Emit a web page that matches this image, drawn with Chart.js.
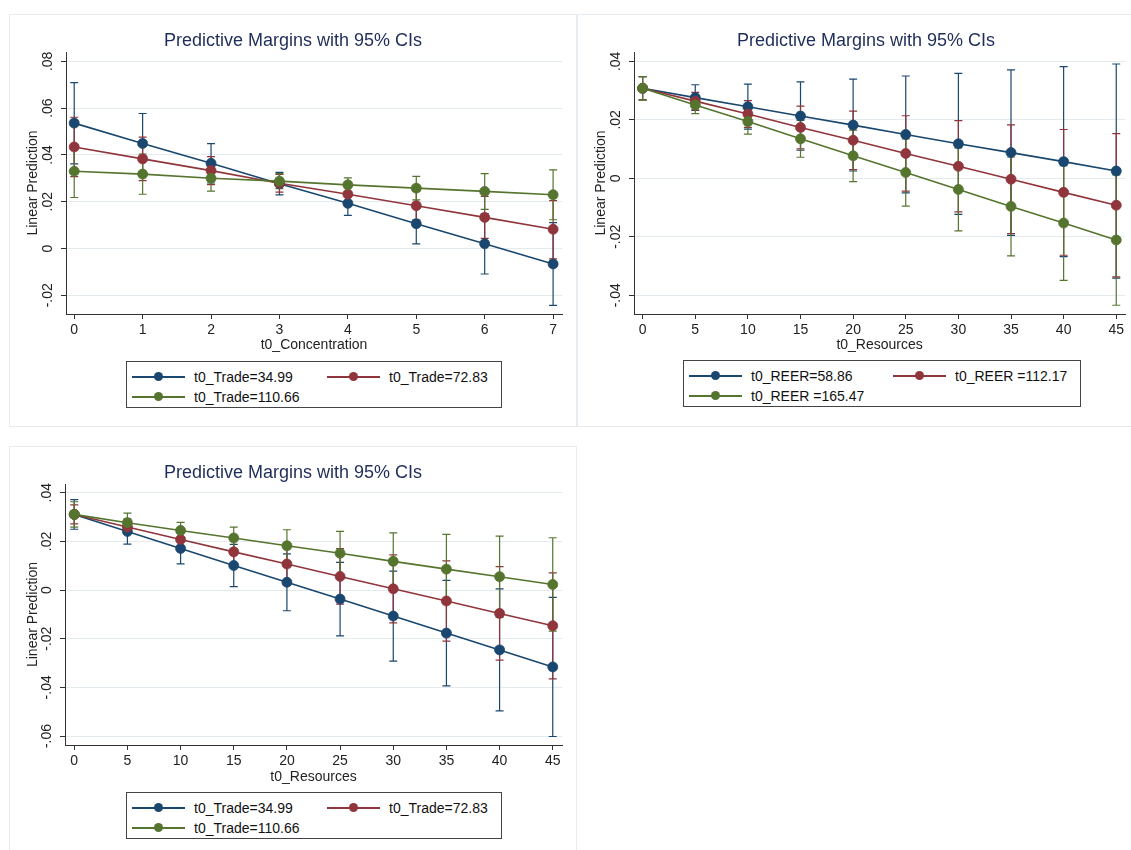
<!DOCTYPE html>
<html>
<head>
<meta charset="utf-8">
<script src="https://cdn.jsdelivr.net/npm/chart.js@4.4.1/dist/chart.umd.min.js"></script>
<style>
  body { margin:0; background:#fff; font-family:"Liberation Sans", Arial, sans-serif; }
  #wrap { position:relative; width:1131px; height:850px; overflow:hidden; background:#fff; }
  .panel { position:absolute; border:1px solid #e6ecef; box-sizing:border-box; }
  canvas { position:absolute; }
  .title { position:absolute; width:420px; text-align:center; font-size:18px; line-height:20px; color:#1e2d5a; white-space:nowrap; }
  .legend { position:absolute; border:1px solid #444; background:#fff; box-sizing:border-box; }
  .key { position:absolute; height:20px; font-size:14px; line-height:20px; color:#111; white-space:nowrap; }
  .key .sym { position:absolute; left:0; top:9px; width:53px; height:1.6px; }
  .key .dot { position:absolute; left:22px; top:-3.7px; width:9px; height:9px; border-radius:50%; }
  .key .txt { position:absolute; left:62px; top:0; }
</style>
</head>
<body>
<div id="wrap">
  <div class="panel" style="left:9px;top:14px;width:568px;height:413px"></div>
  <div class="panel" style="left:577px;top:14px;width:560px;height:413px"></div>
  <div class="panel" style="left:9px;top:446px;width:568px;height:410px"></div>

  <canvas id="c1" width="568" height="339" style="left:9px;top:15px"></canvas>
  <canvas id="c2" width="554" height="339" style="left:577px;top:15px"></canvas>
  <canvas id="c3" width="568" height="339" style="left:9px;top:447px"></canvas>

  <div class="title" style="left:83px;top:30px">Predictive Margins with 95% CIs</div>
  <div class="title" style="left:656px;top:30px">Predictive Margins with 95% CIs</div>
  <div class="title" style="left:83px;top:462px">Predictive Margins with 95% CIs</div>

  <div class="legend" id="lg1" style="left:126px;top:361px;width:376px;height:47px"></div>
  <div class="legend" id="lg2" style="left:683px;top:360px;width:398px;height:47px"></div>
  <div class="legend" id="lg3" style="left:126px;top:792px;width:376px;height:47px"></div>
</div>

<script>
  const colors = ['#1a476f', '#90353b', '#55752f'];

  // ── panel 1: t0_Concentration ──
  const conc = [0, 1, 2, 3, 4, 5, 6, 7];
  const concBlue    = [0.0536, 0.0449, 0.0364, 0.0277, 0.0193, 0.0106, 0.0020, -0.0066];
  const concBlueLo  = [0.0362, 0.0321, 0.0280, 0.0229, 0.0142, 0.0020, -0.0109, -0.0243];
  const concBlueHi  = [0.0709, 0.0577, 0.0448, 0.0325, 0.0244, 0.0192, 0.0149, 0.0111];
  const concRed     = [0.0434, 0.0383, 0.0333, 0.0279, 0.0232, 0.0183, 0.0133, 0.0082];
  const concRedLo   = [0.0307, 0.0290, 0.0273, 0.0241, 0.0197, 0.0122, 0.0043, -0.0044];
  const concRedHi   = [0.0561, 0.0476, 0.0393, 0.0317, 0.0267, 0.0244, 0.0223, 0.0205];
  const concGreen   = [0.0330, 0.0318, 0.0300, 0.0288, 0.0272, 0.0258, 0.0244, 0.0230];
  const concGreenLo = [0.0218, 0.0232, 0.0245, 0.0256, 0.0242, 0.0208, 0.0167, 0.0123];
  const concGreenHi = [0.0442, 0.0404, 0.0355, 0.0320, 0.0302, 0.0308, 0.0320, 0.0336];
  const tradeLabels = ['t0_Trade=34.99', 't0_Trade=72.83', 't0_Trade=110.66'];
  const yTicks1 = [-0.02, 0, 0.02, 0.04, 0.06, 0.08];
  const yLabels1 = ['-.02', '0', '.02', '.04', '.06', '.08'];

  // ── panel 2: t0_Resources by REER ──
  const res = [0, 5, 10, 15, 20, 25, 30, 35, 40, 45];
  const reerBlue    = [0.0308, 0.0276, 0.0245, 0.0213, 0.0182, 0.0150, 0.0118, 0.0088, 0.0057, 0.0025];
  const reerBlueLo  = [0.0268, 0.0232, 0.0168, 0.0096, 0.0025, -0.0050, -0.0123, -0.0195, -0.0268, -0.0341];
  const reerBlueHi  = [0.0348, 0.0320, 0.0322, 0.0330, 0.0339, 0.0350, 0.0359, 0.0371, 0.0382, 0.0391];
  const reerRed     = [0.0308, 0.0264, 0.0220, 0.0174, 0.0130, 0.0085, 0.0041, -0.0003, -0.0048, -0.0092];
  const reerRedLo   = [0.0268, 0.0234, 0.0174, 0.0101, 0.0030, -0.0044, -0.0115, -0.0189, -0.0263, -0.0337];
  const reerRedHi   = [0.0348, 0.0294, 0.0266, 0.0247, 0.0230, 0.0214, 0.0197, 0.0183, 0.0167, 0.0153];
  const reerGreen   = [0.0308, 0.0251, 0.0194, 0.0135, 0.0077, 0.0020, -0.0038, -0.0096, -0.0153, -0.0211];
  const reerGreenLo = [0.0268, 0.0221, 0.0151, 0.0072, -0.0011, -0.0095, -0.0180, -0.0265, -0.0349, -0.0434];
  const reerGreenHi = [0.0348, 0.0281, 0.0237, 0.0198, 0.0165, 0.0135, 0.0104, 0.0073, 0.0043, 0.0012];
  const reerLabels = ['t0_REER=58.86', 't0_REER =112.17', 't0_REER =165.47'];
  const yTicks2 = [-0.04, -0.02, 0, 0.02, 0.04];
  const yLabels2 = ['-.04', '-.02', '0', '.02', '.04'];

  // ── panel 3: t0_Resources by Trade ──
  const resBlue    = [0.0311, 0.0241, 0.0171, 0.0101, 0.0032, -0.0037, -0.0107, -0.0177, -0.0246, -0.0316];
  const resBlueLo  = [0.0250, 0.0189, 0.0108, 0.0014, -0.0085, -0.0188, -0.0292, -0.0394, -0.0497, -0.0602];
  const resBlueHi  = [0.0372, 0.0293, 0.0234, 0.0188, 0.0149, 0.0114, 0.0078, 0.0040, 0.0005, -0.0030];
  const resRed     = [0.0311, 0.0259, 0.0208, 0.0157, 0.0107, 0.0056, 0.0005, -0.0045, -0.0096, -0.0147];
  const resRedLo   = [0.0272, 0.0244, 0.0173, 0.0097, 0.0020, -0.0058, -0.0135, -0.0210, -0.0288, -0.0365];
  const resRedHi   = [0.0350, 0.0274, 0.0243, 0.0217, 0.0194, 0.0170, 0.0145, 0.0120, 0.0096, 0.0071];
  const resGreen   = [0.0311, 0.0277, 0.0245, 0.0214, 0.0182, 0.0151, 0.0118, 0.0086, 0.0055, 0.0023];
  const resGreenLo = [0.0259, 0.0238, 0.0212, 0.0169, 0.0116, 0.0061, 0.0001, -0.0057, -0.0112, -0.0169];
  const resGreenHi = [0.0363, 0.0316, 0.0278, 0.0259, 0.0248, 0.0241, 0.0235, 0.0229, 0.0222, 0.0215];
  const yTicks3 = [-0.06, -0.04, -0.02, 0, 0.02, 0.04];
  const yLabels3 = ['-.06', '-.04', '-.02', '0', '.02', '.04'];

  Chart.defaults.font.family = '"Liberation Sans", Arial, sans-serif';
  Chart.defaults.color = '#222';

  // CI caps, drawn under the lines and markers
  const ciBars = {
    id: 'ciBars',
    beforeDatasetsDraw(chart) {
      const { ctx, scales: { x, y } } = chart;
      ctx.save();
      chart.data.datasets.forEach(ds => {
        ctx.strokeStyle = ds.borderColor;
        ctx.lineWidth = 1.2;
        ds.data.forEach((p, i) => {
          const px = x.getPixelForValue(p.x);
          const top = y.getPixelForValue(ds.hi[i]);
          const bot = y.getPixelForValue(ds.lo[i]);
          ctx.beginPath();
          ctx.moveTo(px, top); ctx.lineTo(px, bot);
          ctx.moveTo(px - 4, top); ctx.lineTo(px + 4, top);
          ctx.moveTo(px - 4, bot); ctx.lineTo(px + 4, bot);
          ctx.stroke();
        });
      });
      ctx.restore();
    }
  };

  // stata-style vertical y tick labels
  const rotatedYLabels = {
    id: 'rotatedYLabels',
    afterDraw(chart, args, opts) {
      const { ctx, scales: { y } } = chart;
      ctx.save();
      ctx.font = '14px "Liberation Sans", Arial, sans-serif';
      ctx.fillStyle = '#222';
      ctx.textAlign = 'center';
      ctx.textBaseline = 'middle';
      opts.ticks.forEach((v, i) => {
        ctx.save();
        ctx.translate(chart.chartArea.left - 18, y.getPixelForValue(v));
        ctx.rotate(-Math.PI / 2);
        ctx.fillText(opts.labels[i], 0, 0);
        ctx.restore();
      });
      ctx.restore();
    }
  };

  function makePanel(p) {
    const datasets = p.series.map((s, k) => ({
      label: p.labels[k],
      data: p.xs.map((v, i) => ({ x: v, y: s[0][i] })),
      lo: s[1], hi: s[2],
      borderColor: colors[k], backgroundColor: colors[k],
      pointBackgroundColor: colors[k], pointBorderColor: colors[k],
      borderWidth: 1.6, pointRadius: 5, pointBorderWidth: 0.8,
      tension: 0, order: 3 - k
    }));
    new Chart(document.getElementById(p.id), {
      type: 'line',
      data: { datasets },
      options: {
        responsive: false, animation: false, events: [],
        layout: { padding: { top: 37, right: p.padRight, left: 0, bottom: 0 } },
        plugins: { legend: { display: false }, tooltip: { enabled: false },
                   rotatedYLabels: { ticks: p.yTicks, labels: p.yLabels } },
        scales: {
          x: {
            type: 'linear', min: p.xMin, max: p.xMax,
            afterBuildTicks: s => { s.ticks = p.xs.map(v => ({ value: v })); },
            afterFit: s => { s.height = p.xHeight; },
            grid: { drawOnChartArea: false, drawTicks: true, tickLength: 5, tickColor: '#333' },
            border: { display: true, color: '#333', width: 1 },
            ticks: { autoSkip: false, maxRotation: 0, padding: 3, font: { size: 14 } },
            title: { display: true, text: p.xTitle, font: { size: 14 }, padding: { top: 0, bottom: 0 } }
          },
          y: {
            type: 'linear', min: p.yMin, max: p.yMax,
            afterBuildTicks: s => { s.ticks = p.yTicks.map(v => ({ value: v })); },
            afterFit: s => { s.width = p.yWidth; },
            grid: { color: '#e3ebef', tickColor: '#333', tickLength: 5 },
            border: { display: true, color: '#333', width: 1 },
            ticks: { display: false },
            title: { display: true, text: 'Linear Prediction', font: { size: 14 }, padding: { top: 15.5, bottom: 0 } }
          }
        }
      },
      plugins: [ciBars, rotatedYLabels]
    });
  }

  function makeLegend(id, labels, cols, rows) {
    const box = document.getElementById(id);
    labels.forEach((txt, k) => {
      const el = document.createElement('div');
      el.className = 'key';
      el.style.left = cols[k % 2] + 'px';
      el.style.top = rows[Math.floor(k / 2)] + 'px';
      el.innerHTML = '<div class="sym" style="background:' + colors[k] + '"><div class="dot" style="background:' + colors[k] + '"></div></div><div class="txt">' + txt + '</div>';
      box.appendChild(el);
    });
  }

  makePanel({ id: 'c1', xs: conc, labels: tradeLabels,
    series: [[concBlue, concBlueLo, concBlueHi], [concRed, concRedLo, concRedHi], [concGreen, concGreenLo, concGreenHi]],
    xMin: -0.12, xMax: 7.13, yMin: -0.028, yMax: 0.084, yTicks: yTicks1, yLabels: yLabels1,
    xTitle: 't0_Concentration', yWidth: 57, xHeight: 40, padRight: 15 });

  makePanel({ id: 'c2', xs: res, labels: reerLabels,
    series: [[reerBlue, reerBlueLo, reerBlueHi], [reerRed, reerRedLo, reerRedHi], [reerGreen, reerGreenLo, reerGreenHi]],
    xMin: -0.82, xMax: 45.85, yMin: -0.0464, yMax: 0.0432, yTicks: yTicks2, yLabels: yLabels2,
    xTitle: 't0_Resources', yWidth: 57, xHeight: 40, padRight: 3 });

  makePanel({ id: 'c3', xs: res, labels: tradeLabels,
    series: [[resBlue, resBlueLo, resBlueHi], [resRed, resRedLo, resRedHi], [resGreen, resGreenLo, resGreenHi]],
    xMin: -0.87, xMax: 45.87, yMin: -0.0637, yMax: 0.0436, yTicks: yTicks3, yLabels: yLabels3,
    xTitle: 't0_Resources', yWidth: 56, xHeight: 41, padRight: 15 });

  makeLegend('lg1', tradeLabels, [5, 200], [5, 25]);
  makeLegend('lg2', reerLabels, [5, 209], [5, 25]);
  makeLegend('lg3', tradeLabels, [5, 200], [5, 25]);
</script>
</body>
</html>
